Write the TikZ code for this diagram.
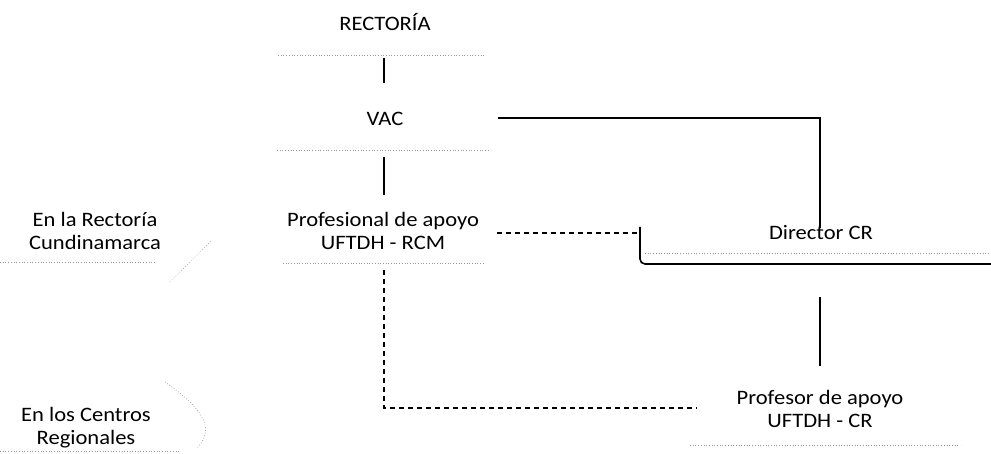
\documentclass[tikz,border=0pt]{standalone}
\usepackage{fontspec}
\setmainfont{Carlito}[FakeStretch=1.1]
\begin{document}
\begin{tikzpicture}[x=1pt,y=-1pt,
  txt/.style={font=\fontsize{20.5}{23}\selectfont, align=center, inner sep=0pt},
  faint/.style={black!40, dotted, line width=0.7pt},
  conn/.style={line width=1.3pt},
  dconn/.style={line width=1.3pt, dash pattern=on 5pt off 4pt}]
\useasboundingbox (0,0) rectangle (991,454);
% texts
\node[txt] (rect) at (385,22) {RECTORÍA};
\node[txt] (vac) at (385,119) {VAC};
\node[txt] (prof) at (383,231) {Profesional de apoyo\\UFTDH - RCM};
\node[txt] (dir) at (821,233) {Director CR};
\node[txt] (pcr) at (820,409) {Profesor de apoyo\\UFTDH - CR};
\node[txt] (l1) at (95,231) {En la Rectoría\\Cundinamarca};
\node[txt] (l2) at (86,428) {En los Centros\\Regionales};
% faint box edges
\draw[faint] (278,55) -- (485,55);
\draw[faint] (277,150) -- (488,150);
\draw[faint] (283,263) -- (483,263);
\draw[faint] (690,445) -- (960,445);
\draw[faint] (0,262) -- (155,262);
\draw[faint] (0,451) -- (180,451);
\draw[faint] (170,282) -- (212,240);
\draw[faint] (165,382) .. controls (205,410) and (215,430) .. (197,448);
\draw[faint] (645,253) -- (991,253);
% Director box edge
\draw[line width=1.6pt, rounded corners=5pt] (640,227) -- (640,264) -- (991,264);
% connector end points
\coordinate (r1) at (384,58);
\coordinate (v1) at (384,83);
\coordinate (v2) at (384,157);
\coordinate (p1) at (384,195);
\coordinate (vr) at (498,118);
\coordinate (dt) at (820,228);
\coordinate (pr) at (497,233);
\coordinate (dl) at (640,233);
\coordinate (pb) at (384,270);
\coordinate (cl) at (697,408);
\coordinate (db) at (820,297);
\coordinate (ct) at (820,366);
% connectors
\draw[conn] (r1) -- (v1);
\draw[conn] (v2) -- (p1);
\draw[conn] (vr) -| (dt);
\draw[dconn] (pr) -- (dl);
\draw[dconn] (pb) |- (cl);
\draw[conn] (db) -- (ct);
\end{tikzpicture}
\end{document}
